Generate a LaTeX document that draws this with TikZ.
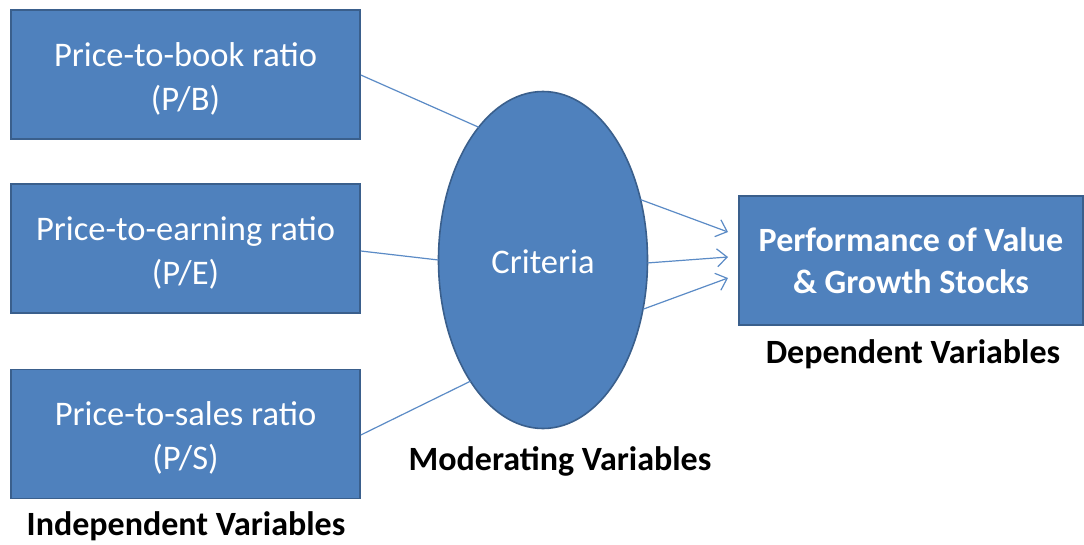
\documentclass[tikz,border=0pt]{standalone}
\usepackage{fontspec}
\setmainfont{Carlito}
\usetikzlibrary{shapes.geometric,calc,arrows.meta}
\definecolor{boxfill}{HTML}{4F81BD}
\definecolor{boxline}{HTML}{3A5F8C}
\definecolor{arrowc}{HTML}{5B8BC6}
\tikzset{
  varbox/.style={draw=boxline, line width=1.6pt, fill=boxfill, text=white, minimum width=349pt, minimum height=129pt, align=center, inner sep=0pt, font=\fontsize{34.5}{44}\selectfont},
  boxtext/.style={text=white, align=center, inner sep=0pt, font=\fontsize{34.5}{44}\selectfont},
  critnode/.style={ellipse, draw=boxline, line width=1.6pt, fill=boxfill, text=white, minimum width=209pt, minimum height=337pt, inner sep=0pt, font=\fontsize{34.5}{44}\selectfont},
  lbl/.style={font=\fontsize{34}{43}\selectfont\bfseries, text=black, inner sep=0pt},
  conn/.style={draw=arrowc, line width=1.2pt},
  arr/.style={conn, -{Straight Barb[length=10pt,width=18pt,line width=1.2pt]}}
}
\begin{document}
\begin{tikzpicture}[x=1pt,y=-1pt]
\useasboundingbox (0,0) rectangle (1084,544);
\fill[white] (0,0) rectangle (1084,544);
\node[varbox] (pb) at (185.5,74.5) {};
\node[boxtext] (pbt) at ($(pb.center)+(0,4)$) {Price-to-book ratio\\(P/B)};
\node[varbox] (pe) at (185.5,248.5) {};
\node[boxtext] (pet) at ($(pe.center)+(0,4)$) {Price-to-earning ratio\\(P/E)};
\node[varbox] (ps) at (185.5,434) {};
\node[boxtext] (pst) at ($(ps.center)+(0,4)$) {Price-to-sales ratio\\(P/S)};
\node[critnode] (crit) at (543,260) {};
\node[boxtext] (critt) at ($(crit.center)+(0,2)$) {Criteria};
\node[varbox, minimum width=344pt, font=\fontsize{34}{42}\selectfont\bfseries] (perf) at (911,260.5) {Performance of Value\\\& Growth Stocks};
\node[lbl, anchor=base] (ind) at (186,535) {Independent Variables};
\node[lbl] (mod) at (560,461) {Moderating Variables};
\node[lbl] (dep) at (913,354) {Dependent Variables};
% connectors
\coordinate (c1) at ($(crit.center)+(-128:104.5 and 168.5)$);
\coordinate (c2) at ($(crit.center)+(180:104.5 and 168.5)$);
\coordinate (c3) at ($(crit.center)+(134:104.5 and 168.5)$);
\draw[conn] (pb.east |- 0,75) -- (c1);
\draw[conn] (pe.east |- 0,251) -- (c2);
\draw[conn] (ps.east |- 0,435) -- (c3);
\coordinate (o1) at ($(crit.center)+(-21:104.5 and 168.5)$);
\coordinate (o2) at ($(crit.center)+(1:104.5 and 168.5)$);
\coordinate (o3) at ($(crit.center)+(17:104.5 and 168.5)$);
\coordinate (t1) at (728,232);
\coordinate (t2) at (728,257);
\coordinate (t3) at (728,278);
\draw[arr] (o1) -- (t1);
\draw[arr] (o2) -- (t2);
\draw[arr] (o3) -- (t3);
\end{tikzpicture}
\end{document}
